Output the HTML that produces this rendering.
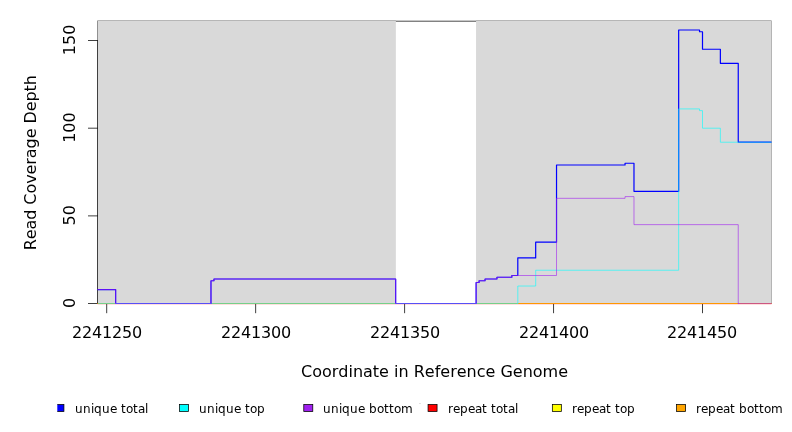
<!DOCTYPE html>
<html lang="en">
<head>
<meta charset="utf-8">
<title>Read Coverage Depth</title>
<style>
html,body{margin:0;padding:0;background:#fff;}
body{width:792px;height:432px;overflow:hidden;}
svg{display:block;font-family:"DejaVu Sans","Liberation Sans",sans-serif;font-kerning:none;}
.ax{font-size:16px;fill:#000;}
.lg{font-size:12px;fill:#000;}
</style>
</head>
<body>
<svg width="792" height="432" viewBox="0 0 792 432">
<rect x="0" y="0" width="792" height="432" fill="#ffffff"/>
<rect x="98" y="21" width="297.85" height="283" fill="#d9d9d9"/>
<rect x="476.05" y="21" width="294.95" height="283" fill="#d9d9d9"/>
<rect x="98" y="20" width="673" height="1" fill="#b6b6b6"/>
<rect x="395.85" y="20" width="80.20" height="1" fill="#c6c6c6"/>
<rect x="395.85" y="21" width="80.20" height="1" fill="#828282"/>
<rect x="97" y="20" width="1" height="1" fill="#c8c8c8"/>
<rect x="771" y="20" width="1" height="1" fill="#d4d4d4"/>
<rect x="97" y="21" width="1" height="19" fill="#909090"/>
<rect x="771" y="21" width="1" height="283" fill="#b4b4b4"/>
<g fill="none" stroke="#000" stroke-width="0.75">
<path d="M97.50 303.90 V40.12"/>
<path d="M97.88 303.50 H88.00"/>
<path d="M97.88 215.88 H88.00"/>
<path d="M97.88 128.19 H88.00"/>
<path d="M97.88 40.50 H88.00"/>
<path d="M106.70 303.50 V313.20"/>
<path d="M255.65 303.50 V313.20"/>
<path d="M404.60 303.50 V313.20"/>
<path d="M553.55 303.50 V313.20"/>
<path d="M702.50 303.50 V313.20"/>
</g>
<g>
<rect x="97.50" y="304" width="674.00" height="1" fill="#ff0000" fill-opacity="0.13"/>
<rect x="97.50" y="303" width="674.00" height="1" fill="#ff0000"/>
<rect x="97.50" y="303" width="674.00" height="1" fill="#ffff00" fill-opacity="0.54"/>
<rect x="97.50" y="303" width="674.00" height="1" fill="#ffa500" fill-opacity="0.54"/>
</g>
<g fill="none" stroke-linejoin="round" stroke-linecap="butt">
<rect x="115.04" y="303" width="96.53" height="1" fill="#0000ff"/>
<rect x="395.06" y="303" width="81.63" height="1" fill="#0000ff"/>
<path d="M97.50 289.53 H115.64 V304.00 M210.97 304.00 V280.76 H213.94 V279.01 H395.66 V304.00 M476.10 304.00 V282.52 H479.07 V280.76 H485.03 V279.01 H496.95 V277.25 H511.84 V275.50 H517.80 V257.96 H535.68 V242.18 H556.53 V165.02 H625.05 V163.26 H633.98 V191.32 H678.67 V29.98 H699.52 V31.74 H702.50 V49.27 H720.37 V63.30 H738.25 V142.22 H771.50" stroke="#0000ff" stroke-width="1.2"/>
<rect x="98.00" y="303" width="420.10" height="1" fill="#00ffff" fill-opacity="0.54"/>
<path d="M517.80 304.00 V286.02 H535.68 V270.24 H678.67 V108.90 H699.52 V110.65 H702.50 V128.19 H720.37 V142.22 H771.50" stroke="#00ffff" stroke-width="0.6"/>
<rect x="115.34" y="303" width="95.93" height="1" fill="#a020f0" fill-opacity="0.54"/>
<rect x="395.36" y="303" width="81.03" height="1" fill="#a020f0" fill-opacity="0.54"/>
<rect x="737.95" y="303" width="33.55" height="1" fill="#a020f0" fill-opacity="0.54"/>
<path d="M97.50 289.53 H115.64 V304.00 M210.97 304.00 V280.76 H213.94 V279.01 H395.66 V304.00 M476.10 304.00 V282.52 H479.07 V280.76 H485.03 V279.01 H496.95 V277.25 H511.84 V275.50 H556.53 V198.34 H625.05 V196.58 H633.98 V224.64 H738.25 V304.00" stroke="#a020f0" stroke-width="0.6"/>
</g>
<g class="ax">
<text x="72 82 92 102 112 122 132" y="338">2241250</text>
<text x="221 231 241 251 261 271 281" y="338">2241300</text>
<text x="370 380 390 400 410 420 430" y="338">2241350</text>
<text x="519 529 539 549 559 569 579" y="338">2241400</text>
<text x="667 677 687 697 707 717 727" y="338">2241450</text>
<text text-anchor="middle" transform="translate(75.2 302.96) rotate(-90)">0</text>
<text text-anchor="middle" transform="translate(75.2 215.28) rotate(-90)">50</text>
<text text-anchor="middle" transform="translate(75.2 127.59) rotate(-90)">100</text>
<text text-anchor="middle" transform="translate(75.2 39.90) rotate(-90)">150</text>
<text text-anchor="middle" x="434.5" y="377">Coordinate in Reference Genome</text>
<text letter-spacing="-0.07" transform="translate(36.1 250.3) rotate(-90)">Read Coverage Depth</text>
</g>
<g class="lg">
<clipPath id="lc"><rect x="57.3" y="400" width="20" height="20"/></clipPath>
<rect clip-path="url(#lc)" x="54.92" y="404.5" width="9" height="7" fill="#0000ff" stroke="#000" stroke-width="0.75"/>
<text x="75 83 91 94 102 110 117 121 126 133 138 145" y="413">unique total</text>
<rect x="179.50" y="404.5" width="9" height="7" fill="#00ffff" stroke="#000" stroke-width="0.75"/>
<text x="199 207 215 218 226 234 241 245 250 257" y="413">unique top</text>
<rect x="303.78" y="404.5" width="9" height="7" fill="#a020f0" stroke="#000" stroke-width="0.75"/>
<text x="323 331 339 342 350 358 365 369 377 384 389 394 401" y="413">unique bottom</text>
<rect x="428.06" y="404.5" width="9" height="7" fill="#ff0000" stroke="#000" stroke-width="0.75"/>
<text x="448 453 460 468 475 482 487 491 496 503 508 515" y="413">repeat total</text>
<rect x="552.34" y="404.5" width="9" height="7" fill="#ffff00" stroke="#000" stroke-width="0.75"/>
<text x="572 577 584 592 599 606 611 615 620 627" y="413">repeat top</text>
<rect x="676.62" y="404.5" width="9" height="7" fill="#ffa500" stroke="#000" stroke-width="0.75"/>
<text x="696 701 708 716 723 730 735 739 747 754 759 764 771" y="413">repeat bottom</text>
<rect x="419.1" y="403.1" width="1.7" height="0.8" fill="#000" fill-opacity="0.17"/>
</g>
</svg>
</body>
</html>
